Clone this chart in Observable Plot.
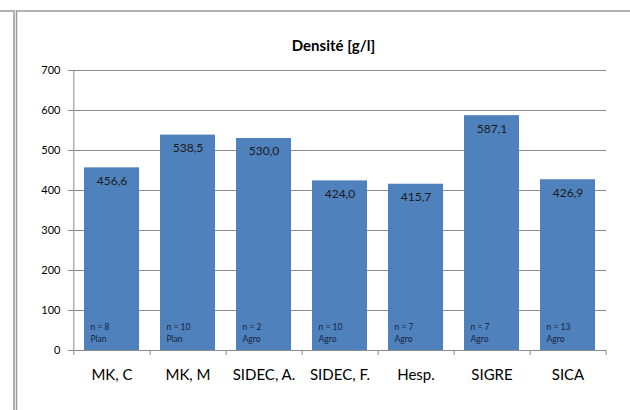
<!DOCTYPE html>
<html><head><meta charset="utf-8">
<script src="https://cdn.jsdelivr.net/npm/d3@7"></script>
<script src="https://cdn.jsdelivr.net/npm/@observablehq/plot@0.6"></script>
<style>body{margin:0;background:#fff;} #c{position:relative;width:630px;height:410px;}</style>
</head><body><div id="c"></div>
<script>
const categories = ["MK, C", "MK, M", "SIDEC, A.", "SIDEC, F.", "Hesp.", "SIGRE", "SICA"];
const values = [456.6, 538.5, 530.0, 424.0, 415.7, 587.1, 426.9];
const counts = [8, 10, 2, 10, 7, 7, 13];
const origins = ["Plan", "Plan", "Agro", "Agro", "Agro", "Agro", "Agro"];
const yTicks = [0, 100, 200, 300, 400, 500, 600, 700];
const title = "Densité [g/l]";

const data = categories.map((c, i) => ({cat: c, value: values[i], n: counts[i], origin: origins[i]}));
const W = 630, H = 410, ml = 72, mr = 24, mt = 70, mb = 60;
const step = (W - ml - mr) / categories.length;
const bw = step * 0.72;
const fmt = v => d3.format(".1f")(v).replace(".", ",");
const gray = "#8c8c8c";

const plot = Plot.plot({
  width: W, height: H, marginLeft: ml, marginRight: mr, marginTop: mt, marginBottom: mb,
  style: {fontFamily: "Lato, 'Open Sans', sans-serif", background: "#fff", overflow: "visible"},
  x: {domain: categories, paddingInner: 0.28, paddingOuter: 0.14, label: null, axis: null},
  y: {domain: [0, 700], label: null},
  marks: [
    Plot.gridY(yTicks, {stroke: gray, strokeOpacity: 1}),
    Plot.barY(data, {x: "cat", y: "value", fill: "#4f81bd"}),
    Plot.ruleY([0], {stroke: gray}),
    Plot.ruleX([categories[0]], {x: d => d, dx: -step / 2, y1: 0, y2: 700, insetTop: 5, stroke: gray}),
    Plot.ruleX(categories, {x: d => d, dx: step / 2, y1: 0, y2: 0, insetTop: 5, stroke: gray}),
    Plot.axisY(yTicks, {tickSize: 4, tickPadding: 8, tickFormat: d => d, fontSize: 11, fill: "#000", stroke: gray, label: null}),
    Plot.text(data, {x: "cat", y: "value", dy: 13, text: d => fmt(d.value), fontSize: 12, fill: "#1a1a1a"}),
    Plot.text(data, {x: "cat", y: 0, dy: -23, dx: -bw / 2 + 6, textAnchor: "start", text: d => "n = " + d.n, fontSize: 8.5, fill: "#18223a"}),
    Plot.text(data, {x: "cat", y: 0, dy: -11, dx: -bw / 2 + 6, textAnchor: "start", text: "origin", fontSize: 8.5, fill: "#18223a"}),
    Plot.text(data, {x: "cat", y: 0, dy: 25, text: "cat", fontSize: 15, fill: "#000"}),
    Plot.text([title], {frameAnchor: "top", dy: -30, dx: -6, text: d => d, fontSize: 15, fontWeight: "bold", fill: "#000"})
  ]
});

const svg = d3.select(plot);
const fr = svg.append("g").attr("fill", "none");
fr.append("path").attr("d", "M0,11H14V410").attr("stroke", "#b0b0b0").attr("stroke-width", 2);
fr.append("path").attr("d", "M16.5,410V11H630").attr("stroke", "#9a9a9a").attr("stroke-width", 1.5);
document.getElementById("c").appendChild(plot);
</script>
</body></html>
